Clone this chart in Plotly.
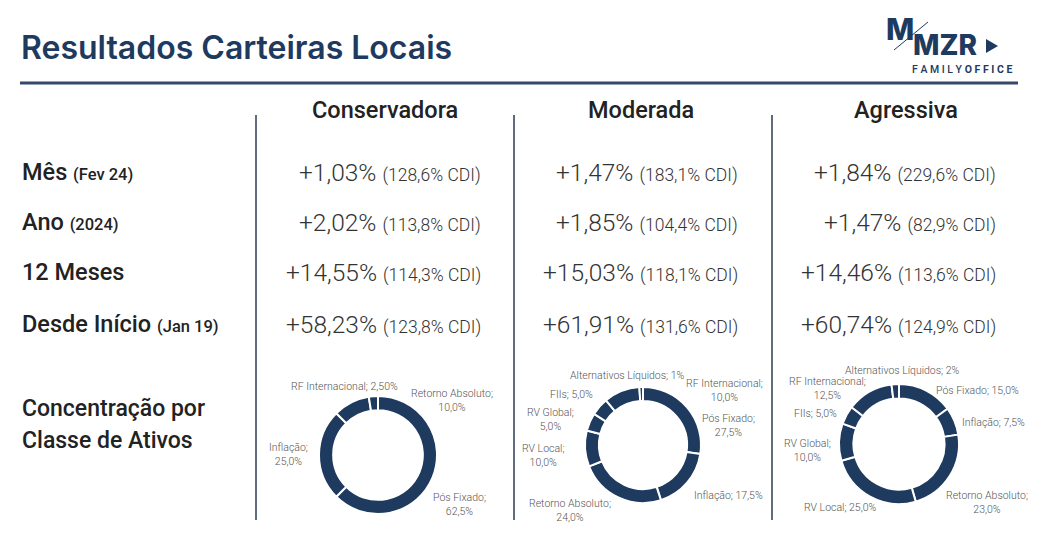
import plotly.graph_objects as go

W, H = 1043, 533
OFF = 8  # the page body has an 8px margin, so the figure starts at (8, 8) on screen
NAVY = "#1e3a5f"
TEXT = "#222222"

# ---- data ----
carteiras = ["Conservadora", "Moderada", "Agressiva"]
periodos = ["Mês", "Ano", "12 Meses", "Desde Início"]
periodos_ref = ["(Fev 24)", "(2024)", "", "(Jan 19)"]

retorno = {
    "Conservadora": ["+1,03%", "+2,02%", "+14,55%", "+58,23%"],
    "Moderada": ["+1,47%", "+1,85%", "+15,03%", "+61,91%"],
    "Agressiva": ["+1,84%", "+1,47%", "+14,46%", "+60,74%"],
}
pct_cdi = {
    "Conservadora": ["128,6%", "113,8%", "114,3%", "123,8%"],
    "Moderada": ["183,1%", "104,4%", "118,1%", "131,6%"],
    "Agressiva": ["229,6%", "82,9%", "113,6%", "124,9%"],
}

classes_cons = ["Pós Fixado", "Inflação", "Retorno Absoluto", "RF Internacional"]
pesos_cons = ["62,5%", "25,0%", "10,0%", "2,50%"]
valores_cons = [62.5, 25.0, 10.0, 2.5]

classes_mod = ["Pós Fixado", "Inflação", "Retorno Absoluto", "RV Local",
               "RV Global", "FIIs", "RF Internacional", "Alternativos Líquidos"]
pesos_mod = ["27,5%", "17,5%", "24,0%", "10,0%", "5,0%", "5,0%", "10,0%", "1%"]
valores_mod = [27.5, 17.5, 24.0, 10.0, 5.0, 5.0, 10.0, 1.0]

classes_agr = ["Pós Fixado", "Inflação", "Retorno Absoluto", "RV Local",
               "RV Global", "FIIs", "RF Internacional", "Alternativos Líquidos"]
pesos_agr = ["15,0%", "7,5%", "23,0%", "25,0%", "10,0%", "5,0%", "12,5%", "2%"]
valores_agr = [15.0, 7.5, 23.0, 25.0, 10.0, 5.0, 12.5, 2.0]

# ---- layout (screen pixel positions) ----
col_right = [483, 740, 998]
col_center = [385, 641, 906]
row_y = [172, 222, 272, 324]
vlines_x = [256, 514, 772]

# donut centre x, centre y, radius, label positions in slice order (x, y, two lines?)
donuts = [
    (378, 455, 59, classes_cons, valores_cons, pesos_cons,
     [(459, 504, True), (288, 454, True), (452, 400, True), (344, 386, False)]),
    (643, 445, 58, classes_mod, valores_mod, pesos_mod,
     [(728, 425, True), (728, 495, False), (570, 510, True), (543, 455, True),
      (550, 419, True), (571, 394, False), (724, 390, True), (627, 375, False)]),
    (899, 444, 60, classes_agr, valores_agr, pesos_agr,
     [(977, 390, False), (993, 422, False), (987, 502, True), (840, 507, False),
      (807, 450, True), (815, 413, False), (827, 388, True), (902, 370, False)]),
]

fig = go.Figure()

annotations = []
shapes = []


def txt(x, y, text, size, color=TEXT, weight=400, family="Roboto", xanchor="center", align="center"):
    annotations.append(dict(
        x=x, y=y, xref="x", yref="y", text=text, showarrow=False,
        xanchor=xanchor, yanchor="middle", align=align,
        font=dict(family=family, size=size, color=color, weight=weight),
    ))


# title and rule
txt(19, 47, "Resultados Carteiras Locais", 32, color=NAVY, weight=600, family="Inter", xanchor="left")
shapes.append(dict(type="line", xref="x", yref="y", x0=20, x1=1018, y0=83, y1=83,
                   line=dict(color="#34496a", width=3)))

# logo
txt(900, 29, "M", 30, color=NAVY, weight=800, family="Inter")
txt(945, 45, "MZR", 28, color=NAVY, weight=800, family="Inter")
shapes.append(dict(type="path", path="M 986 39 L 998 46 L 986 53 Z", xref="x", yref="y",
                   fillcolor=NAVY, line=dict(width=0)))
shapes.append(dict(type="line", xref="x", yref="y", x0=894, x1=928, y0=50, y1=22,
                   line=dict(color=NAVY, width=1)))
txt(962, 69, "F A M I L Y <b>O F F I C E</b>", 10.5, color=NAVY, weight=500, family="Roboto")

# column headers and separators
for cx, name in zip(col_center, carteiras):
    txt(cx, 110, name, 23.5, weight=500)
for vx in vlines_x:
    shapes.append(dict(type="line", xref="x", yref="y", x0=vx, x1=vx, y0=115, y1=520,
                       line=dict(color="#2b3a52", width=1.5)))

# row labels
for y, per, ref in zip(row_y, periodos, periodos_ref):
    label = per if not ref else f"{per} <span style='font-size:16.5px'>{ref}</span>"
    txt(20, y, label, 23.5, weight=500, xanchor="left", align="left")
txt(20, 408, "Concentração por", 23, weight=500, xanchor="left", align="left")
txt(20, 440, "Classe de Ativos", 23, weight=500, xanchor="left", align="left")

# values
for xr, name in zip(col_right, carteiras):
    for y, r, c in zip(row_y, retorno[name], pct_cdi[name]):
        txt(xr, y, f"{r} <span style='font-size:17.5px'>({c} CDI)</span>", 24.5,
            color="#333333", weight=300, xanchor="right", align="right")

# donuts
for cx, cy, r, classes, valores, pesos, pos in donuts:
    sx, sy = cx - OFF, cy - OFF
    fig.add_trace(go.Pie(
        labels=classes, values=valores, hole=0.76, sort=False,
        direction="clockwise", rotation=0, textinfo="none",
        marker=dict(colors=[NAVY] * len(classes), line=dict(color="white", width=2)),
        domain=dict(x=[(sx - r) / W, (sx + r) / W], y=[1 - (sy + r) / H, 1 - (sy - r) / H]),
        showlegend=False, hoverinfo="label+percent",
    ))
    for nome, peso, (lx, ly, quebra) in zip(classes, pesos, pos):
        sep = ";<br>" if quebra else "; "
        txt(lx, ly, f"{nome}{sep}{peso}", 10.5, color="#555555", weight=300)

fig.update_layout(
    width=W, height=H,
    margin=dict(l=0, r=0, t=0, b=0),
    paper_bgcolor="white", plot_bgcolor="white",
    xaxis=dict(range=[OFF, W + OFF], visible=False, fixedrange=True),
    yaxis=dict(range=[H + OFF, OFF], visible=False, fixedrange=True),
    annotations=annotations, shapes=shapes,
)

fig.write_html("out.html")
